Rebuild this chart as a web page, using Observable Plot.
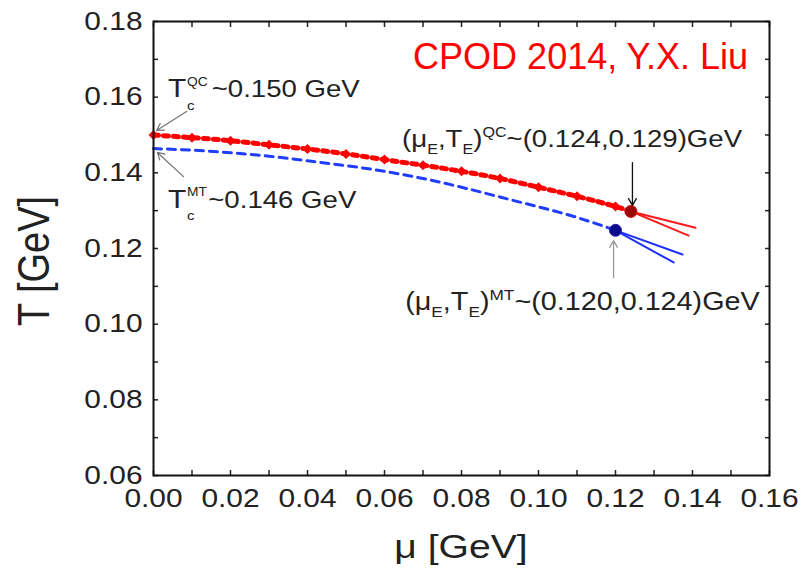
<!DOCTYPE html>
<html><head><meta charset="utf-8">
<script src="https://cdn.jsdelivr.net/npm/d3@7"></script>
<script src="https://cdn.jsdelivr.net/npm/@observablehq/plot@0.6"></script>
<style>body{margin:0;background:#fff;} #chart{width:812px;height:571px;}</style>
</head><body><div id="chart"></div>
<script>
// ---- data ----
const muQC = [0, 0.01, 0.02, 0.03, 0.04, 0.05, 0.06, 0.07, 0.08, 0.09, 0.10, 0.11, 0.12, 0.124];
const TQC  = [0.1500, 0.1493, 0.1485, 0.1474, 0.1463, 0.1450, 0.1435, 0.1420, 0.1404, 0.1385, 0.1362, 0.1338, 0.1311, 0.1298];
const muMT = [0, 0.01, 0.02, 0.03, 0.04, 0.05, 0.06, 0.07, 0.08, 0.09, 0.10, 0.11, 0.12];
const TMT  = [0.1464, 0.1460, 0.1453, 0.1444, 0.1432, 0.1419, 0.1404, 0.1385, 0.1362, 0.1336, 0.1310, 0.1282, 0.1248];
const cepMu = [0.124, 0.120];
const cepT  = [0.1298, 0.1248];
const cepName = ["QC", "MT"];
// spinodal-like branches beyond the CEP
const branchName = ["QC-a", "QC-a", "QC-b", "QC-b", "MT-a", "MT-a", "MT-b", "MT-b"];
const branchMu   = [0.124, 0.1408, 0.124, 0.1390, 0.120, 0.1374, 0.120, 0.1351];
const branchT    = [0.1298, 0.1255, 0.1298, 0.1234, 0.1248, 0.1184, 0.1248, 0.1163];
// annotation arrows
const arrX1 = [0.0086, 0.0078, 0.1244, 0.1195];
const arrY1 = [0.1562, 0.1390, 0.1427, 0.1123];
const arrX2 = [0.0008, 0.0010, 0.1244, 0.1195];
const arrY2 = [0.1512, 0.1454, 0.1314, 0.1221];
const arrColor = ["#777", "#777", "#111", "#999"];
// ticks
const xTicks = [0,0.01,0.02,0.03,0.04,0.05,0.06,0.07,0.08,0.09,0.10,0.11,0.12,0.13,0.14,0.15,0.16];
const yTicks = [0.06,0.07,0.08,0.09,0.10,0.11,0.12,0.13,0.14,0.15,0.16,0.17,0.18];
const xTitle = "μ [GeV]";
const yTitle = "T [GeV]";
const credit = "CPOD 2014, Y.X. Liu";

const qc = muQC.map((m, i) => ({mu: m, T: TQC[i]}));
const mt = muMT.map((m, i) => ({mu: m, T: TMT[i]}));
const cep = cepMu.map((m, i) => ({mu: m, T: cepT[i], name: cepName[i]}));
const branches = branchMu.map((m, i) => ({mu: m, T: branchT[i], name: branchName[i]}));
const arrows = arrX1.map((x, i) => ({x1: x, y1: arrY1[i], x2: arrX2[i], y2: arrY2[i], c: arrColor[i]}));

const fmtEven = d => (Math.round(d * 100) % 2 === 0 ? d3.format(".2f")(d) : "");
const FONT = "'Liberation Sans', Arial, Helvetica, sans-serif";

const svg = Plot.plot({
  width: 812, height: 571,
  marginLeft: 153, marginRight: 43, marginTop: 21, marginBottom: 96,
  x: {domain: [0, 0.16]},
  y: {domain: [0.06, 0.18]},
  style: {fontFamily: FONT, fontSize: "26px", background: "#fff", color: "#222"},
  marks: [
    Plot.axisX(xTicks, {anchor: "bottom", tickSize: -5, tickPadding: 18, tickFormat: fmtEven, label: null, fontSize: 26, strokeWidth: 1.5}),
    Plot.axisX(xTicks, {anchor: "top", tickSize: -5, tickFormat: () => "", label: null, strokeWidth: 1.5}),
    Plot.axisY(yTicks, {anchor: "left", tickSize: -5, tickPadding: 16, tickFormat: fmtEven, label: null, fontSize: 26, strokeWidth: 1.5}),
    Plot.axisY(yTicks, {anchor: "right", tickSize: -5, tickFormat: () => "", label: null, strokeWidth: 1.5}),
    Plot.line(mt, {x: "mu", y: "T", stroke: "#1f3cff", strokeWidth: 3, strokeDasharray: "8,6", curve: "natural"}),
    Plot.line(qc, {x: "mu", y: "T", stroke: "#ff0000", strokeWidth: 5, strokeDasharray: "5,5", curve: "natural"}),
    Plot.dot(qc, {x: "mu", y: "T", symbol: "diamond2", r: 4.5, fill: "#ff0000", stroke: "none"}),
    Plot.line(branches, {x: "mu", y: "T", z: "name", stroke: d => d.name.startsWith("QC") ? "#ff1a1a" : "#1f2fff", strokeWidth: 2}),
    Plot.dot(cep, {x: "mu", y: "T", r: 6, fill: d => d.name === "QC" ? "#9a0a0a" : "#0a0a8a", stroke: d => d.name === "QC" ? "#d01010" : "#2020b0", strokeWidth: 1}),
    Plot.arrow(arrows, {x1: "x1", y1: "y1", x2: "x2", y2: "y2", stroke: "c", strokeWidth: 1.3, headLength: 9, inset: 0}),
    Plot.frame({stroke: "#111", strokeWidth: 2})
  ]
});

// Reference glyphs are horizontally stretched: apply the same to the axis labels.
const STRETCH = 1.15;
svg.querySelectorAll("text").forEach(t => {
  if (t.textContent.trim() === "") { t.remove(); return; }
  let tr = t.getAttribute("transform") || "";
  const xa = t.getAttribute("x");
  if (xa !== null && !/em/.test(xa) && +xa !== 0) {
    tr += ` translate(${+xa},0)`;
    t.removeAttribute("x");
  }
  t.setAttribute("transform", `${tr} scale(${STRETCH},1)`);
});

const xs = svg.scale("x"), ys = svg.scale("y");
const root = d3.select(svg).append("g").attr("font-family", FONT).attr("fill", "#222").attr("text-anchor", "start");

// Tc annotations: big T with stacked sub/superscript
const tcNotes = [
  {mu: 0.0039, T: 0.1599, sup: "QC", sub: "c", rest: "~0.150 GeV", supDy: -11, subDy: 13, restX: 38},
  {mu: 0.0039, T: 0.1306, sup: "MT", sub: "c", rest: "~0.146 GeV", supDy: -12, subDy: 12, restX: 35}
];
tcNotes.forEach(n => {
  const g = root.append("g").attr("transform", `translate(${xs.apply(n.mu)},${ys.apply(n.T)}) scale(${STRETCH},1)`);
  g.append("text").attr("font-size", 26).text("T");
  g.append("text").attr("x", 16.5).attr("y", n.supDy).attr("font-size", 12).text(n.sup);
  g.append("text").attr("x", 16.5).attr("y", n.subDy).attr("font-size", 13).text(n.sub);
  g.append("text").attr("x", n.restX).attr("font-size", 24).text(n.rest);
});

// CEP annotations with tspans
const cepNotes = [
  {mu: 0.0647, T: 0.1467, tag: "QC", val: "~(0.124,0.129)GeV", size: 24},
  {mu: 0.0655, T: 0.1036, tag: "MT", val: "~(0.120,0.124)GeV", size: 25}
];
cepNotes.forEach(n => {
  const t = root.append("text").attr("font-size", n.size)
    .attr("transform", `translate(${xs.apply(n.mu)},${ys.apply(n.T)}) scale(${STRETCH},1)`);
  const parts = [["(μ", 0], ["E", 7], [",T", 0], ["E", 7], [")", 0], [n.tag, -10], [n.val, 0]];
  let cur = 0;
  parts.forEach(([s, off]) => {
    t.append("tspan").attr("dy", off - cur).attr("font-size", off === 0 ? n.size : Math.round(n.size * 0.6)).text(s);
    cur = off;
  });
});

// axis titles
root.append("text").attr("font-size", 34).attr("text-anchor", "middle")
  .attr("transform", `translate(461,558) scale(${STRETCH},1)`).text(xTitle);
root.append("text").attr("font-size", 38).attr("text-anchor", "middle")
  .attr("transform", `translate(49,261) scale(${STRETCH},1) rotate(-90)`).text(yTitle);
// credit
root.append("text").attr("font-size", 36).attr("fill", "#ff0000").attr("text-anchor", "end")
  .attr("x", 748).attr("y", 69).text(credit);

document.getElementById("chart").appendChild(svg);
</script></body></html>
